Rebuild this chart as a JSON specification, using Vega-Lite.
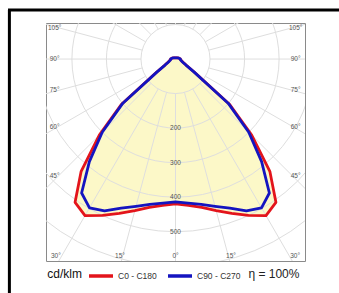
{
  "$schema": "https://vega.github.io/schema/vega-lite/v6.json",
  "width": 259,
  "height": 238,
  "autosize": {"type": "none"},
  "padding": {"left": 46, "top": 23, "right": 34, "bottom": 32},
  "background": "white",
  "config": {"view": {"stroke": "#8a8a8a", "strokeWidth": 1}, "font": "Liberation Sans"},
  "datasets": {
    "curves": [
      {"c": "C0 - C180", "a": -180, "i": 4}, {"c": "C0 - C180", "a": -165, "i": 4}, {"c": "C0 - C180", "a": -150, "i": 4}, {"c": "C0 - C180", "a": -135, "i": 5}, {"c": "C0 - C180", "a": -120, "i": 7}, {"c": "C0 - C180", "a": -105, "i": 10}, {"c": "C0 - C180", "a": -90, "i": 14}, {"c": "C0 - C180", "a": -85, "i": 15}, {"c": "C0 - C180", "a": -80, "i": 16}, {"c": "C0 - C180", "a": -75, "i": 18}, {"c": "C0 - C180", "a": -70, "i": 21}, {"c": "C0 - C180", "a": -65, "i": 26}, {"c": "C0 - C180", "a": -60, "i": 36}, {"c": "C0 - C180", "a": -55, "i": 67}, {"c": "C0 - C180", "a": -50, "i": 205}, {"c": "C0 - C180", "a": -45, "i": 312}, {"c": "C0 - C180", "a": -40, "i": 425}, {"c": "C0 - C180", "a": -35, "i": 507}, {"c": "C0 - C180", "a": -30, "i": 524}, {"c": "C0 - C180", "a": -25, "i": 500}, {"c": "C0 - C180", "a": -20, "i": 476}, {"c": "C0 - C180", "a": -15, "i": 455}, {"c": "C0 - C180", "a": -10, "i": 437}, {"c": "C0 - C180", "a": -5, "i": 426}, {"c": "C0 - C180", "a": 0, "i": 420},
      {"c": "C0 - C180", "a": 5, "i": 426}, {"c": "C0 - C180", "a": 10, "i": 437}, {"c": "C0 - C180", "a": 15, "i": 455}, {"c": "C0 - C180", "a": 20, "i": 476}, {"c": "C0 - C180", "a": 25, "i": 500}, {"c": "C0 - C180", "a": 30, "i": 524}, {"c": "C0 - C180", "a": 35, "i": 507}, {"c": "C0 - C180", "a": 40, "i": 425}, {"c": "C0 - C180", "a": 45, "i": 312}, {"c": "C0 - C180", "a": 50, "i": 205}, {"c": "C0 - C180", "a": 55, "i": 67}, {"c": "C0 - C180", "a": 60, "i": 36}, {"c": "C0 - C180", "a": 65, "i": 26}, {"c": "C0 - C180", "a": 70, "i": 21}, {"c": "C0 - C180", "a": 75, "i": 18}, {"c": "C0 - C180", "a": 80, "i": 16}, {"c": "C0 - C180", "a": 85, "i": 15}, {"c": "C0 - C180", "a": 90, "i": 14}, {"c": "C0 - C180", "a": 105, "i": 10}, {"c": "C0 - C180", "a": 120, "i": 7}, {"c": "C0 - C180", "a": 135, "i": 5}, {"c": "C0 - C180", "a": 150, "i": 4}, {"c": "C0 - C180", "a": 165, "i": 4}, {"c": "C0 - C180", "a": 180, "i": 4},
      {"c": "C90 - C270", "a": -180, "i": 4}, {"c": "C90 - C270", "a": -165, "i": 4}, {"c": "C90 - C270", "a": -150, "i": 4}, {"c": "C90 - C270", "a": -135, "i": 5}, {"c": "C90 - C270", "a": -120, "i": 7}, {"c": "C90 - C270", "a": -105, "i": 10}, {"c": "C90 - C270", "a": -90, "i": 14}, {"c": "C90 - C270", "a": -85, "i": 14}, {"c": "C90 - C270", "a": -80, "i": 15}, {"c": "C90 - C270", "a": -75, "i": 17}, {"c": "C90 - C270", "a": -70, "i": 20}, {"c": "C90 - C270", "a": -65, "i": 25}, {"c": "C90 - C270", "a": -60, "i": 35}, {"c": "C90 - C270", "a": -55, "i": 65}, {"c": "C90 - C270", "a": -50, "i": 199}, {"c": "C90 - C270", "a": -45, "i": 300}, {"c": "C90 - C270", "a": -40, "i": 388}, {"c": "C90 - C270", "a": -35, "i": 474}, {"c": "C90 - C270", "a": -30, "i": 498}, {"c": "C90 - C270", "a": -25, "i": 486}, {"c": "C90 - C270", "a": -20, "i": 460}, {"c": "C90 - C270", "a": -15, "i": 442}, {"c": "C90 - C270", "a": -10, "i": 428}, {"c": "C90 - C270", "a": -5, "i": 419}, {"c": "C90 - C270", "a": 0, "i": 414},
      {"c": "C90 - C270", "a": 5, "i": 419}, {"c": "C90 - C270", "a": 10, "i": 428}, {"c": "C90 - C270", "a": 15, "i": 442}, {"c": "C90 - C270", "a": 20, "i": 460}, {"c": "C90 - C270", "a": 25, "i": 486}, {"c": "C90 - C270", "a": 30, "i": 498}, {"c": "C90 - C270", "a": 35, "i": 474}, {"c": "C90 - C270", "a": 40, "i": 388}, {"c": "C90 - C270", "a": 45, "i": 300}, {"c": "C90 - C270", "a": 50, "i": 199}, {"c": "C90 - C270", "a": 55, "i": 65}, {"c": "C90 - C270", "a": 60, "i": 35}, {"c": "C90 - C270", "a": 65, "i": 25}, {"c": "C90 - C270", "a": 70, "i": 20}, {"c": "C90 - C270", "a": 75, "i": 17}, {"c": "C90 - C270", "a": 80, "i": 15}, {"c": "C90 - C270", "a": 85, "i": 14}, {"c": "C90 - C270", "a": 90, "i": 14}, {"c": "C90 - C270", "a": 105, "i": 10}, {"c": "C90 - C270", "a": 120, "i": 7}, {"c": "C90 - C270", "a": 135, "i": 5}, {"c": "C90 - C270", "a": 150, "i": 4}, {"c": "C90 - C270", "a": 165, "i": 4}, {"c": "C90 - C270", "a": 180, "i": 4}
    ],
    "spokes": [
      {"a": 0}, {"a": 15}, {"a": 30}, {"a": 45}, {"a": 60}, {"a": 75}, {"a": 90}, {"a": 105}, {"a": 120}, {"a": 135}, {"a": 150}, {"a": 165},
      {"a": 180}, {"a": 195}, {"a": 210}, {"a": 225}, {"a": 240}, {"a": 255}, {"a": 270}, {"a": 285}, {"a": 300}, {"a": 315}, {"a": 330}, {"a": 345}
    ],
    "rings": [{"r": 100}, {"r": 200}, {"r": 300}, {"r": 400}, {"r": 500}, {"r": 600}, {"r": 700}],
    "ringlabels": [{"v": 200}, {"v": 300}, {"v": 400}, {"v": 500}],
    "sidelabels": [{"t": "105°", "a": 105}, {"t": "90°", "a": 90}, {"t": "75°", "a": 75}, {"t": "60°", "a": 60}, {"t": "45°", "a": 45}],
    "bottomlabels": [{"t": "30°", "a": -30}, {"t": "15°", "a": -15}, {"t": "0°", "a": 0}, {"t": "15°", "a": 15}, {"t": "30°", "a": 30}]
  },
  "layer": [
    {
      "data": {"name": "curves"},
      "transform": [
        {"calculate": "datum.i*sin(datum.a*PI/180)", "as": "x"},
        {"calculate": "datum.i*cos(datum.a*PI/180)", "as": "y"}
      ],
      "mark": {"type": "line", "fill": "#fcf8c8", "stroke": "#fcf8c8", "strokeWidth": 0, "clip": true},
      "encoding": {
        "x": {"field": "x", "type": "quantitative", "scale": {"domain": [-375, 375], "nice": false, "zero": false}, "axis": null},
        "y": {"field": "y", "type": "quantitative", "scale": {"domain": [-104.5, 585.5], "nice": false, "zero": false, "reverse": true}, "axis": null},
        "detail": {"field": "c"},
        "order": {"field": "a", "type": "quantitative"}
      }
    },
    {
      "data": {"name": "spokes"},
      "transform": [
        {"calculate": "100*sin(datum.a*PI/180)", "as": "x"},
        {"calculate": "100*cos(datum.a*PI/180)", "as": "y"},
        {"calculate": "1000*sin(datum.a*PI/180)", "as": "x2"},
        {"calculate": "1000*cos(datum.a*PI/180)", "as": "y2"}
      ],
      "mark": {"type": "rule", "stroke": "#dedede", "strokeWidth": 1, "clip": true},
      "encoding": {
        "x": {"field": "x", "type": "quantitative", "scale": {"domain": [-375, 375], "nice": false, "zero": false}, "axis": null},
        "y": {"field": "y", "type": "quantitative", "scale": {"domain": [-104.5, 585.5], "nice": false, "zero": false, "reverse": true}, "axis": null},
        "x2": {"field": "x2"},
        "y2": {"field": "y2"}
      }
    },
    {
      "data": {"name": "rings"},
      "mark": {"type": "point", "shape": "circle", "filled": false, "stroke": "#dedede", "strokeWidth": 1, "opacity": 1, "clip": true},
      "encoding": {
        "x": {"datum": 0, "type": "quantitative", "scale": {"domain": [-375, 375], "nice": false, "zero": false}, "axis": null},
        "y": {"datum": 0, "type": "quantitative", "scale": {"domain": [-104.5, 585.5], "nice": false, "zero": false, "reverse": true}, "axis": null},
        "size": {"field": "r", "type": "quantitative", "scale": {"type": "pow", "exponent": 2, "domain": [0, 600], "range": [0, 171727]}, "legend": null}
      }
    },
    {
      "data": {"name": "ringlabels"},
      "mark": {"type": "text", "fontSize": 6.5, "color": "#555555", "baseline": "middle", "align": "center"},
      "encoding": {
        "x": {"datum": 0, "type": "quantitative", "scale": {"domain": [-375, 375], "nice": false, "zero": false}, "axis": null},
        "y": {"field": "v", "type": "quantitative", "scale": {"domain": [-104.5, 585.5], "nice": false, "zero": false, "reverse": true}, "axis": null},
        "text": {"field": "v", "type": "quantitative"}
      }
    },
    {
      "data": {"name": "sidelabels"},
      "transform": [{"calculate": "339/tan(datum.a*PI/180)", "as": "ly"}],
      "mark": {"type": "text", "fontSize": 6.5, "color": "#555555", "baseline": "middle", "align": "center"},
      "encoding": {
        "x": {"datum": -350, "type": "quantitative", "scale": {"domain": [-375, 375], "nice": false, "zero": false}, "axis": null},
        "y": {"field": "ly", "type": "quantitative", "scale": {"domain": [-104.5, 585.5], "nice": false, "zero": false, "reverse": true}, "axis": null},
        "text": {"field": "t"}
      }
    },
    {
      "data": {"name": "sidelabels"},
      "transform": [{"calculate": "339/tan(datum.a*PI/180)", "as": "ly"}],
      "mark": {"type": "text", "fontSize": 6.5, "color": "#555555", "baseline": "middle", "align": "center"},
      "encoding": {
        "x": {"datum": 348, "type": "quantitative", "scale": {"domain": [-375, 375], "nice": false, "zero": false}, "axis": null},
        "y": {"field": "ly", "type": "quantitative", "scale": {"domain": [-104.5, 585.5], "nice": false, "zero": false, "reverse": true}, "axis": null},
        "text": {"field": "t"}
      }
    },
    {
      "data": {"name": "bottomlabels"},
      "transform": [{"calculate": "600*tan(datum.a*PI/180)", "as": "lx"}],
      "mark": {"type": "text", "fontSize": 6.5, "color": "#555555", "baseline": "middle", "align": "center"},
      "encoding": {
        "x": {"field": "lx", "type": "quantitative", "scale": {"domain": [-375, 375], "nice": false, "zero": false}, "axis": null},
        "y": {"datum": 571, "type": "quantitative", "scale": {"domain": [-104.5, 585.5], "nice": false, "zero": false, "reverse": true}, "axis": null},
        "text": {"field": "t"}
      }
    },
    {
      "data": {"name": "curves"},
      "transform": [
        {"filter": "datum.c == 'C0 - C180'"},
        {"calculate": "datum.i*sin(datum.a*PI/180)", "as": "x"},
        {"calculate": "datum.i*cos(datum.a*PI/180)", "as": "y"}
      ],
      "mark": {"type": "line", "strokeWidth": 2.8, "clip": true, "strokeJoin": "round"},
      "encoding": {
        "x": {"field": "x", "type": "quantitative", "scale": {"domain": [-375, 375], "nice": false, "zero": false}, "axis": null},
        "y": {"field": "y", "type": "quantitative", "scale": {"domain": [-104.5, 585.5], "nice": false, "zero": false, "reverse": true}, "axis": null},
        "order": {"field": "a", "type": "quantitative"},
        "color": {"field": "c", "type": "nominal", "scale": {"domain": ["C0 - C180", "C90 - C270"], "range": ["#e3141b", "#1414c0"]},
          "legend": {"orient": "none", "legendX": 41, "legendY": 239, "direction": "horizontal", "title": null, "symbolType": "stroke", "symbolStrokeWidth": 3.5, "symbolSize": 576, "labelFontSize": 8.5, "labelColor": "#333333", "labelOffset": 3, "columnPadding": 4}}
      }
    },
    {
      "data": {"name": "curves"},
      "transform": [
        {"filter": "datum.c == 'C90 - C270'"},
        {"calculate": "datum.i*sin(datum.a*PI/180)", "as": "x"},
        {"calculate": "datum.i*cos(datum.a*PI/180)", "as": "y"}
      ],
      "mark": {"type": "line", "strokeWidth": 2.8, "clip": true, "strokeJoin": "round"},
      "encoding": {
        "x": {"field": "x", "type": "quantitative", "scale": {"domain": [-375, 375], "nice": false, "zero": false}, "axis": null},
        "y": {"field": "y", "type": "quantitative", "scale": {"domain": [-104.5, 585.5], "nice": false, "zero": false, "reverse": true}, "axis": null},
        "order": {"field": "a", "type": "quantitative"},
        "color": {"field": "c", "type": "nominal", "scale": {"domain": ["C0 - C180", "C90 - C270"], "range": ["#e3141b", "#1414c0"]},
          "legend": {"orient": "none", "legendX": 41, "legendY": 239, "direction": "horizontal", "title": null, "symbolType": "stroke", "symbolStrokeWidth": 3.5, "symbolSize": 576, "labelFontSize": 8.5, "labelColor": "#333333", "labelOffset": 3, "columnPadding": 4}}
      }
    },
    {
      "data": {"values": [{"t": "cd/klm"}]},
      "mark": {"type": "text", "fontSize": 12, "color": "#111111", "baseline": "middle", "align": "center", "clip": false},
      "encoding": {
        "x": {"datum": -321, "type": "quantitative", "scale": {"domain": [-375, 375], "nice": false, "zero": false}, "axis": null},
        "y": {"datum": 623, "type": "quantitative", "scale": {"domain": [-104.5, 585.5], "nice": false, "zero": false, "reverse": true}, "axis": null},
        "text": {"field": "t"}
      }
    },
    {
      "data": {"values": [{"t": "η = 100%"}]},
      "mark": {"type": "text", "fontSize": 12, "color": "#222222", "baseline": "middle", "align": "center", "clip": false},
      "encoding": {
        "x": {"datum": 285, "type": "quantitative", "scale": {"domain": [-375, 375], "nice": false, "zero": false}, "axis": null},
        "y": {"datum": 623, "type": "quantitative", "scale": {"domain": [-104.5, 585.5], "nice": false, "zero": false, "reverse": true}, "axis": null},
        "text": {"field": "t"}
      }
    },
    {
      "data": {"values": [{"k": 1}]},
      "mark": {"type": "rule", "stroke": "#000000", "strokeWidth": 3, "clip": false},
      "encoding": {
        "x": {"datum": -481, "type": "quantitative", "scale": {"domain": [-375, 375], "nice": false, "zero": false}, "axis": null},
        "y": {"datum": -142, "type": "quantitative", "scale": {"domain": [-104.5, 585.5], "nice": false, "zero": false, "reverse": true}, "axis": null},
        "y2": {"datum": 2000}
      }
    },
    {
      "data": {"values": [{"k": 1}]},
      "mark": {"type": "rule", "stroke": "#000000", "strokeWidth": 3, "clip": false},
      "encoding": {
        "x": {"datum": -485, "type": "quantitative", "scale": {"domain": [-375, 375], "nice": false, "zero": false}, "axis": null},
        "x2": {"datum": 2000},
        "y": {"datum": -142, "type": "quantitative", "scale": {"domain": [-104.5, 585.5], "nice": false, "zero": false, "reverse": true}, "axis": null}
      }
    }
  ]
}
